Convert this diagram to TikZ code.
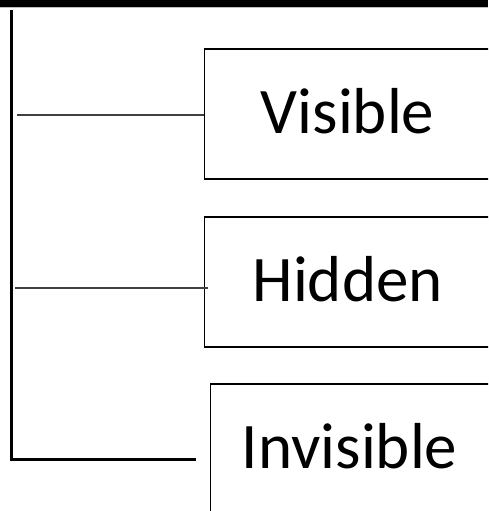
\documentclass[tikz,border=0pt]{standalone}
\usepackage{fontspec}
\setmainfont{Carlito}
\begin{document}
\begin{tikzpicture}[x=1pt,y=-1pt,
  itembox/.style={draw=black,line width=1.3pt,minimum width=310pt,minimum height=130pt,anchor=west,
    inner sep=0pt,text height=38pt,text depth=0pt,font=\fontsize{65}{78}\selectfont,
    execute at end node={\hspace*{#1}}},
  itembox/.default=24pt,
  thinlink/.style={draw=black!75,line width=1.3pt},
  thicklink/.style={draw=black,line width=3pt}]
\useasboundingbox (0,0) rectangle (488,511);
\begin{scope}
\clip (0,0) rectangle (488,511);
% top bar
\fill[black] (0,0) rectangle (488,7);
\draw[black!25,line width=1pt] (0,7.5) -- (488,7.5);
% boxes
\node[itembox] (V) at (204,114) {Visible};
\node[itembox] (H) at (204,282) {Hidden};
\node[itembox=32pt] (I) at (210,449) {Invisible};
% bus
\coordinate (top) at (11.5,10);
\coordinate (corner) at (11.5,459);
\coordinate (iend) at (196,459);
\draw[thicklink] (top) -- (corner) -- (iend);
% connectors
\coordinate (c1) at (17,115);
\coordinate (c2) at (15,288);
\draw[thinlink] (c1) -- (c1 -| V.west);
\draw[thinlink] (c2) -- ([xshift=4pt]c2 -| H.west);
\end{scope}
\end{tikzpicture}
\end{document}
